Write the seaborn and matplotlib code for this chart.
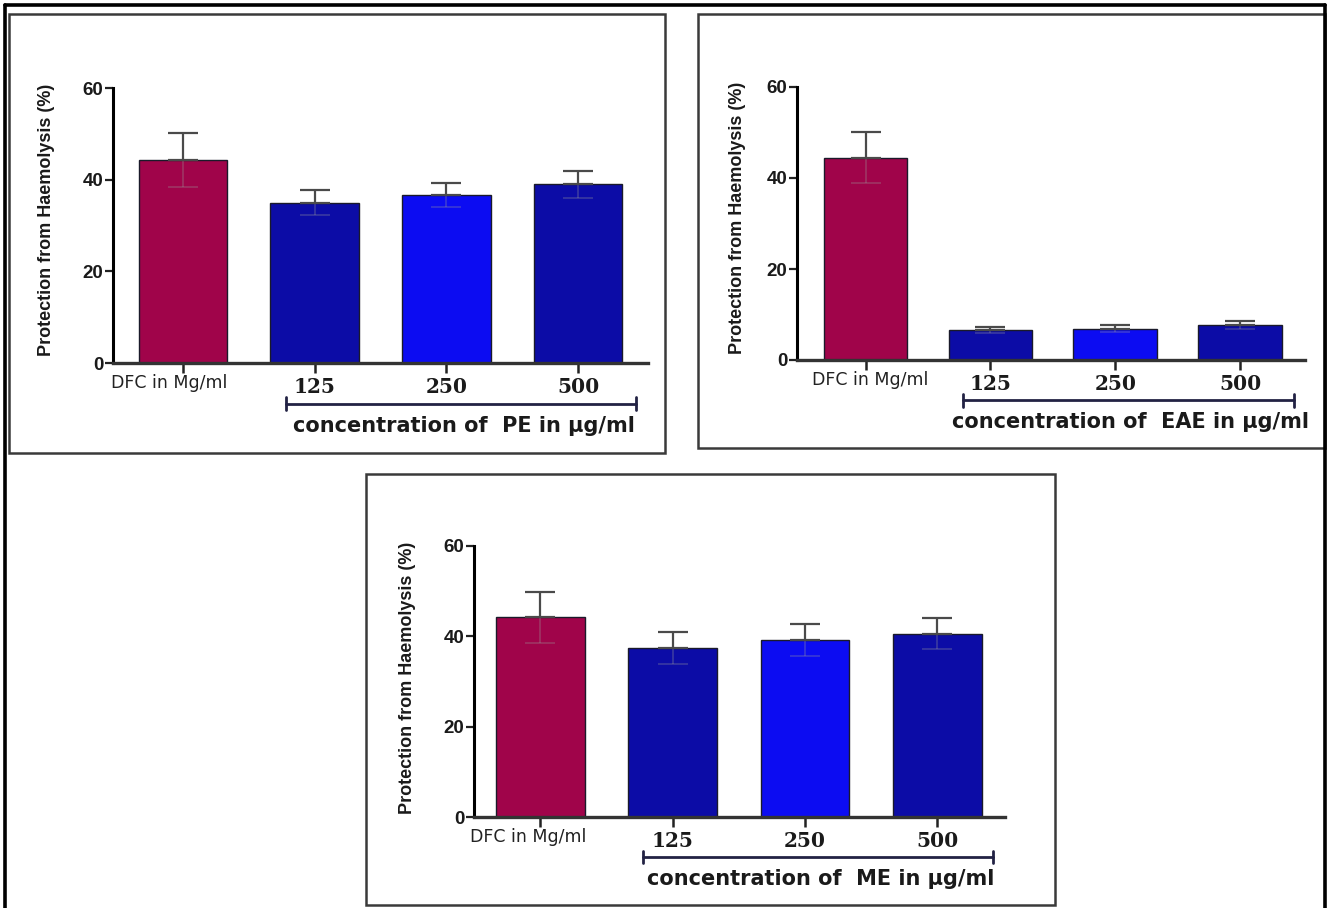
import matplotlib
matplotlib.use("Agg")
import matplotlib.pyplot as plt
from matplotlib.lines import Line2D
from matplotlib.patches import Rectangle
import matplotlib.transforms as mtransforms
import seaborn as sns

# ---- data -------------------------------------------------------------
categories = ["DFC in Mg/ml", "125", "250", "500"]
extract_names = ["PE", "EAE", "ME"]

pe_mean = [44.2, 35.0, 36.7, 39.0]
pe_sem = [5.9, 2.7, 2.6, 3.0]

eae_mean = [44.5, 6.6, 6.9, 7.7]
eae_sem = [5.7, 0.7, 0.7, 0.8]

me_mean = [44.2, 37.4, 39.2, 40.6]
me_sem = [5.7, 3.6, 3.6, 3.4]

y_ticks = [0, 20, 40, 60]
y_label = "Protection from Haemolysis (%)"

bar_colors = ["#a0044a", "#0c0ca6", "#0c0cf2", "#0c0ca6"]

# ---- figure -----------------------------------------------------------
sns.set_style("ticks")
plt.rcParams["font.family"] = ["Liberation Sans", "DejaVu Sans"]

W, H = 1330, 908
fig = plt.figure(figsize=(W / 100, H / 100), dpi=100)
fig.patch.set_facecolor("white")


def fx(px):
    return px / W


def fy(py):
    return 1 - py / H


def axes_box(left, top, right, bottom):
    return [fx(left), fy(bottom), (right - left) / W, (bottom - top) / H]


# outer border (left, top, right)
for xs, ys in [([5, 5], [5, 908]), ([5, 1325], [5, 5]), ([1325, 1325], [5, 908])]:
    fig.add_artist(Line2D([fx(x) for x in xs], [fy(y) for y in ys],
                          color="black", lw=2.6, transform=fig.transFigure))

# panel frames
frames = [(9, 14, 665, 453), (698, 14, 1325, 448), (366, 474, 1055, 905)]
for l, t, r, b in frames:
    fig.add_artist(Rectangle((fx(l), fy(b)), (r - l) / W, (b - t) / H,
                             fill=False, edgecolor="#3a3a3a", lw=1.8,
                             transform=fig.transFigure))

# axes placement: (left, top(60), right, bottom(0)), xlim, ylabel pos,
# bracket span and control-label offset (data units)
layouts = [
    dict(box=(113, 88, 648, 363), xlim=(-0.53, 3.53), ylab=(47, 220),
         bracket=(0.78, 3.44), ctrl_dx=-0.10),
    dict(box=(797, 87, 1305, 360), xlim=(-0.55, 3.52), ylab=(738, 218),
         bracket=(0.78, 3.43), ctrl_dx=0.04),
    dict(box=(474, 546, 1005, 817), xlim=(-0.50, 3.51), ylab=(407, 678),
         bracket=(0.78, 3.42), ctrl_dx=-0.09),
]

series = [(pe_mean, pe_sem), (eae_mean, eae_sem), (me_mean, me_sem)]

for (means, sems), name, lay in zip(series, extract_names, layouts):
    ax = fig.add_axes(axes_box(*lay["box"]))
    sns.barplot(x=categories, y=means, hue=categories, order=categories,
                hue_order=categories, palette=bar_colors, saturation=1,
                legend=False, width=0.67, edgecolor="#1a1a2a", linewidth=1.0,
                ax=ax)
    xs = list(range(len(categories)))
    # lower half of the error bars, faint inside the bars
    ax.errorbar(xs, means, yerr=[sems, [0] * len(sems)], fmt="none",
                ecolor="#9a9a9a", elinewidth=1.3, capsize=11, capthick=1.3,
                alpha=0.3, zorder=3)
    # upper half of the error bars
    ax.errorbar(xs, means, yerr=[[0] * len(sems), sems], fmt="none",
                ecolor="#4a4a4a", elinewidth=1.6, capsize=11, capthick=1.6,
                zorder=4)

    ax.set_xlim(*lay["xlim"])
    ax.set_ylim(0, 60)
    ax.set_yticks(y_ticks)
    ax.set_yticklabels([str(v) for v in y_ticks], fontsize=13.5,
                       fontweight="bold", color="#1a1a1a")
    ax.set_xticks(xs)
    # control label drawn as its own text so it can sit off the tick centre
    ax.set_xticklabels([""] + categories[1:])
    ax.set_xlabel("")
    ax.set_ylabel("")
    for lbl in ax.get_xticklabels()[1:]:
        lbl.set_fontfamily(["DejaVu Serif"])
        lbl.set_fontweight("bold")
        lbl.set_fontsize(14.5)
        lbl.set_color("#1a1a1a")

    trans = mtransforms.blended_transform_factory(ax.transData, ax.transAxes)
    ax.text(lay["ctrl_dx"], -0.074, categories[0], transform=trans,
            ha="center", va="center", fontsize=12.5, color="#222222",
            family=["DejaVu Sans"])

    sns.despine(ax=ax)
    ax.spines["left"].set_linewidth(2.2)
    ax.spines["left"].set_color("black")
    ax.spines["bottom"].set_linewidth(2.4)
    ax.spines["bottom"].set_color("#333333")
    ax.tick_params(axis="y", length=6, width=1.6, pad=1, color="#222222")
    ax.tick_params(axis="x", length=7, width=1.8, pad=3, color="#222222")
    ax.set_facecolor("white")

    # bracket grouping the extract concentrations
    b0, b1 = lay["bracket"]
    ax.add_line(Line2D([b0, b1], [-0.148, -0.148], color="#222244", lw=2.0,
                       transform=trans, clip_on=False))
    for bx in (b0, b1):
        ax.add_line(Line2D([bx, bx], [-0.125, -0.171], color="#222244", lw=2.0,
                           transform=trans, clip_on=False))
    ax.text((b0 + b1) / 2 + 0.02, -0.228,
            f"concentration of  {name} in \u00b5g/ml",
            transform=trans, ha="center", va="center", fontsize=15,
            fontweight="bold", color="#1a1a1a",
            family=["DejaVu Sans"])

    lx, ly = lay["ylab"]
    fig.text(fx(lx), fy(ly), y_label, rotation=90, ha="center", va="center",
             fontsize=13, fontweight="bold", color="#1a1a1a",
             family=["Liberation Sans Narrow", "Liberation Sans", "DejaVu Sans"])

fig.savefig("out.png", dpi=100, facecolor="white")
